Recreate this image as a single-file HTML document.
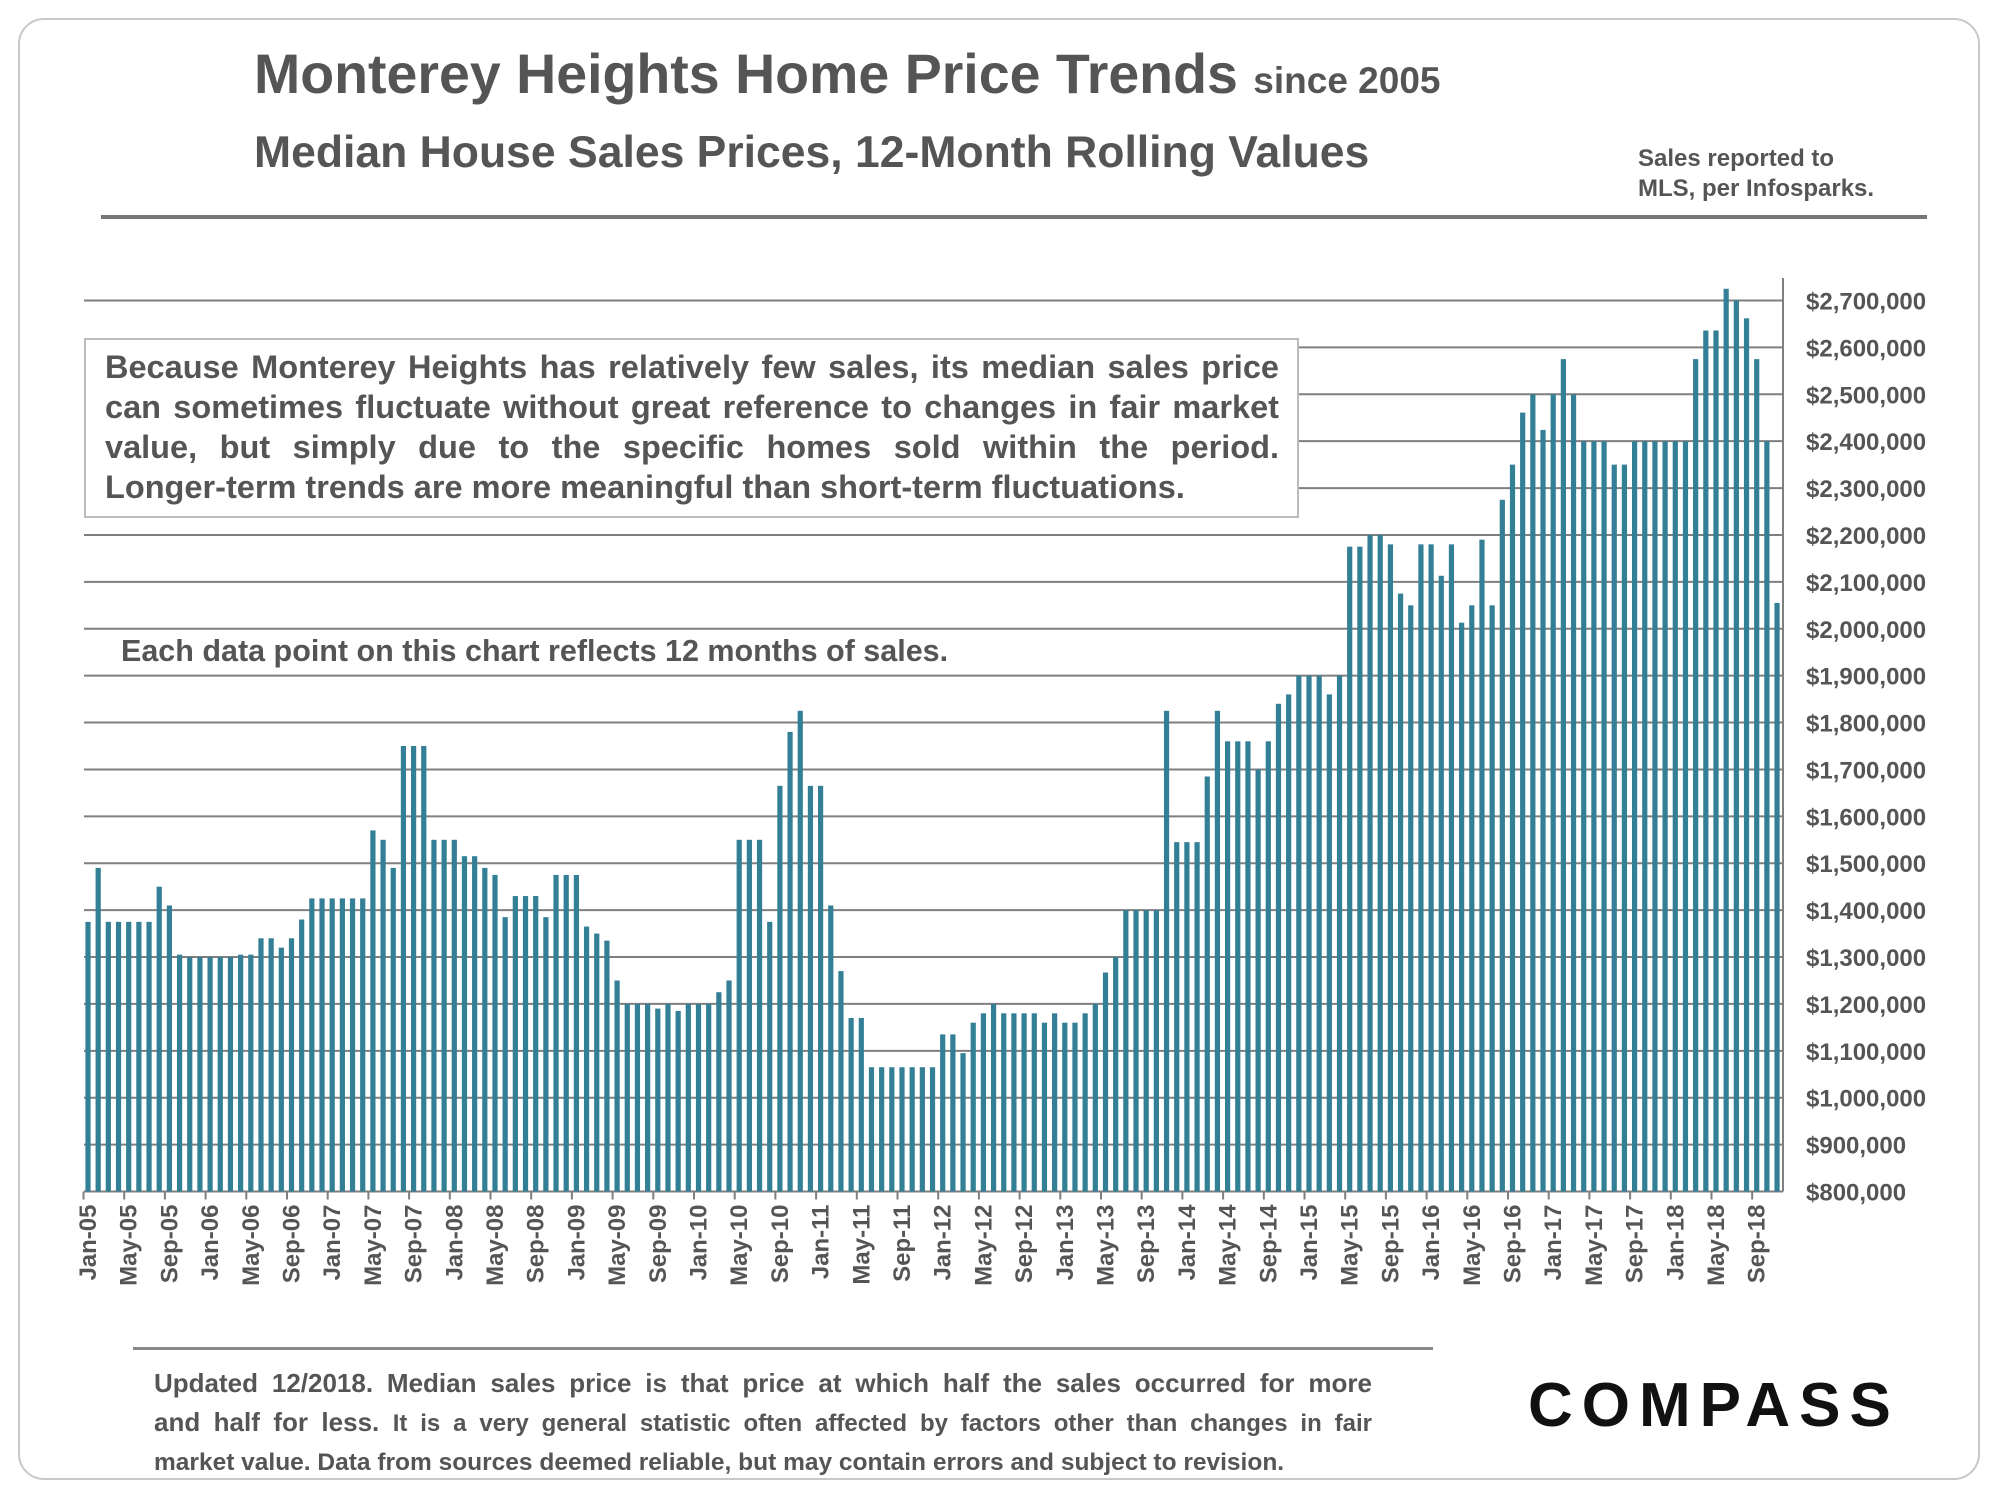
<!DOCTYPE html>
<html><head><meta charset="utf-8">
<style>
html,body{margin:0;padding:0;background:#fff;}
body{width:2000px;height:1500px;position:relative;overflow:hidden;font-family:"Liberation Sans",Arial,sans-serif;color:#4d4d4d;}
.abs{position:absolute;white-space:nowrap;}
.jl{text-align:justify;text-align-last:justify;white-space:nowrap;}
</style></head>
<body>
<div style="position:absolute;left:18px;top:18px;width:1962px;height:1462px;border:2px solid #c8c8c8;border-radius:26px;box-sizing:border-box;"></div>
<div class="abs" style="left:254px;top:42px;font-size:55.5px;font-weight:bold;color:#555;">Monterey Heights Home Price Trends <span style="font-size:37px;">since 2005</span></div>
<div class="abs" style="left:254px;top:128px;font-size:44.5px;font-weight:bold;color:#555;">Median House Sales Prices, 12-Month Rolling Values</div>
<div class="abs" style="left:1638px;top:144px;font-size:24px;font-weight:bold;color:#555;line-height:30px;">Sales reported to<br>MLS, per Infosparks.</div>
<div style="position:absolute;left:101px;top:215px;width:1826px;height:4px;background:#777;"></div>

<svg id="chart" width="2000" height="1500" style="position:absolute;left:0;top:0;" xmlns="http://www.w3.org/2000/svg"></svg>

<div style="position:absolute;left:84px;top:338px;width:1215px;height:180px;border:2px solid #bbb;background:#fff;box-sizing:border-box;"></div>
<div style="position:absolute;left:105px;top:347px;width:1174px;font-size:32.5px;font-weight:bold;color:#555;line-height:40px;">
<div class="jl">Because Monterey Heights has relatively few sales, its median sales price</div>
<div class="jl">can sometimes fluctuate without great reference to changes in fair market</div>
<div class="jl">value, but simply due to the specific homes sold within the period.</div>
<div style="white-space:nowrap;">Longer-term trends are more meaningful than short-term fluctuations.</div>
</div>
<div class="abs" style="left:121px;top:634px;font-size:30.5px;font-weight:bold;color:#555;">Each data point on this chart reflects 12 months of sales.</div>

<div style="position:absolute;left:133px;top:1347px;width:1300px;height:3px;background:#888;"></div>
<div style="position:absolute;left:154px;top:1364px;width:1218px;font-size:26px;font-weight:bold;color:#555;line-height:39px;">
<div class="jl">Updated 12/2018. Median sales price is that price at which half the sales occurred for more</div>
<div class="jl">and half for less. <span style="font-size:24px;">It is a very general statistic often affected by factors other than changes in fair</span></div>
<div style="font-size:24.5px;white-space:nowrap;">market value. Data from sources deemed reliable, but may contain errors and subject to revision.</div>
</div>
<div class="abs" style="left:1528px;top:1370px;font-size:62px;letter-spacing:9px;color:#111;font-weight:bold;">COMPASS</div>

<script>
const months = ["Jan","Feb","Mar","Apr","May","Jun","Jul","Aug","Sep","Oct","Nov","Dec"];
const startYear = 2005;
const medianPrices = [
1375,1490,1375,1375,1375,1375,1375,1450,1410,1305,1300,1300,
1300,1300,1300,1305,1305,1340,1340,1320,1340,1380,1425,1425,
1425,1425,1425,1425,1570,1550,1490,1750,1750,1750,1550,1550,
1550,1515,1515,1490,1475,1385,1430,1430,1430,1385,1475,1475,
1475,1365,1350,1335,1250,1200,1200,1200,1190,1200,1185,1200,
1200,1200,1225,1250,1550,1550,1550,1375,1665,1780,1825,1665,
1665,1410,1270,1170,1170,1065,1065,1065,1065,1065,1065,1065,
1135,1135,1095,1160,1180,1200,1180,1180,1180,1180,1160,1180,
1160,1160,1180,1200,1267,1300,1400,1400,1400,1400,1825,1545,
1545,1545,1685,1825,1760,1760,1760,1700,1760,1840,1860,1900,
1900,1900,1860,1900,2175,2175,2200,2200,2180,2075,2050,2180,
2180,2113,2180,2013,2050,2190,2050,2275,2350,2461,2500,2424,
2500,2575,2500,2400,2400,2400,2350,2350,2400,2400,2400,2400,
2400,2400,2575,2636,2636,2725,2700,2662,2575,2400,2055];
const yTicks = [800,900,1000,1100,1200,1300,1400,1500,1600,1700,1800,1900,2000,2100,2200,2300,2400,2500,2600,2700];

const svg = document.getElementById('chart');
const NS = 'http://www.w3.org/2000/svg';
const plotL = 84, plotR = 1783, yMin = 800, yMax = 2700, yBot = 1191.5, yTop = 300.5;
const x0 = 88, step = 10.175;
function yScale(v){ return yBot - (v - yMin) / (yMax - yMin) * (yBot - yTop); }
function xScale(i){ return x0 + i * step; }
function mk(tag, attrs){ const e = document.createElementNS(NS, tag); for (const k in attrs) e.setAttribute(k, attrs[k]); svg.appendChild(e); return e; }

yTicks.forEach(function(v){
  const g = mk('line', {x1: plotL, x2: plotR, y1: yScale(v), y2: yScale(v), stroke: '#7f7f7f', 'stroke-width': 2});
  
  
  const t = mk('text', {x: 1806, y: yScale(v) + 9, 'font-size': 24, 'font-weight': 'bold', fill: '#555', 'font-family': 'Liberation Sans, Arial, sans-serif'});
  t.textContent = '$' + (v * 1000).toLocaleString('en-US');
  
  
});
const ax = mk('line', {x1: plotR, x2: plotR, y1: 278, y2: yBot, stroke: '#7f7f7f', 'stroke-width': 2});



medianPrices.forEach(function(v, i){
  const x = xScale(i);
  const r = mk('rect', {x: x - 2.6, y: yScale(v), width: 5.2, height: yBot - yScale(v), fill: '#337f96'});
  
  
  if (i % 4 === 0) {
    const tx = x - 4.5;
    const tk = mk('line', {x1: tx, x2: tx, y1: yBot, y2: yBot + 8, stroke: '#7f7f7f', 'stroke-width': 2});
    
    
    const yr = String(startYear + Math.floor(i / 12)).slice(2);
    const lbl = months[i % 12] + '-' + yr;
    const t = mk('text', {x: 0, y: 0, 'font-size': 24, 'font-weight': 'bold', fill: '#555', 'text-anchor': 'end', 'font-family': 'Liberation Sans, Arial, sans-serif', transform: 'translate(' + (x + 8) + ',' + (yBot + 13) + ') rotate(-90)'});
    t.textContent = lbl;
    
    
  }
});
</script>
</body></html>
